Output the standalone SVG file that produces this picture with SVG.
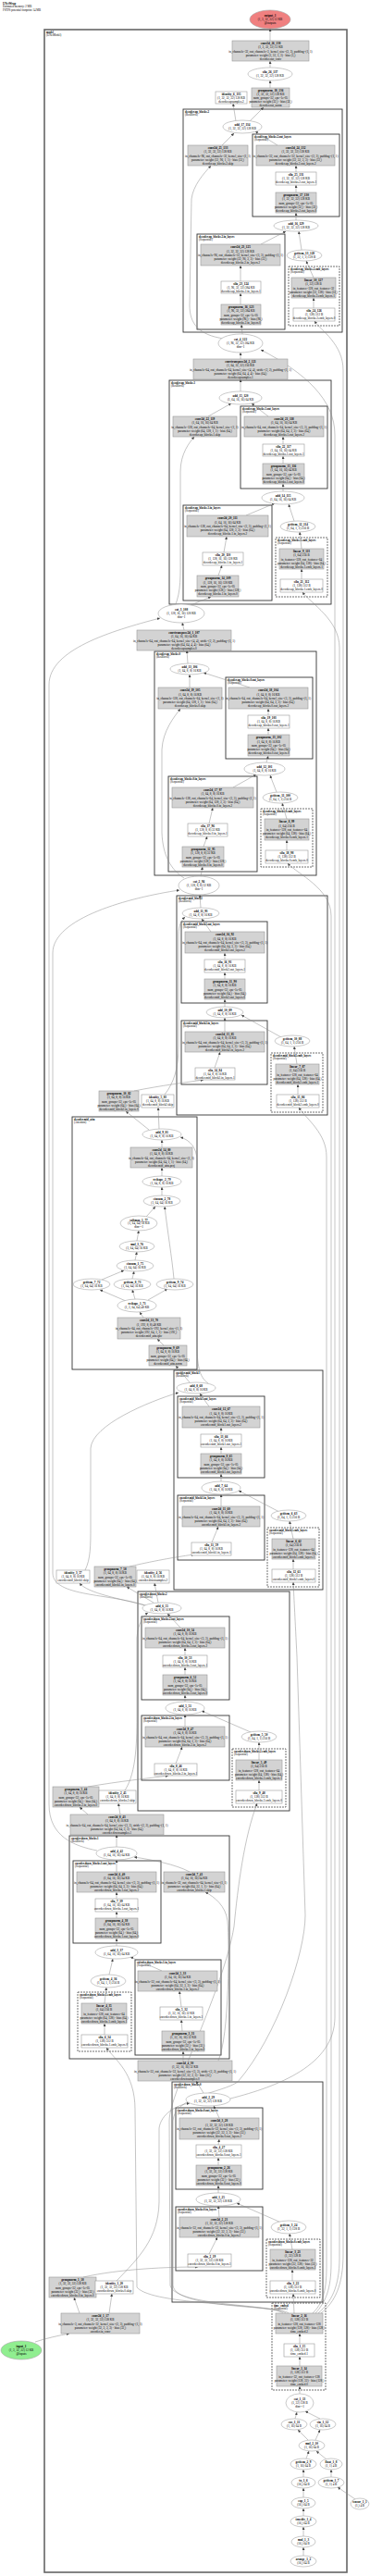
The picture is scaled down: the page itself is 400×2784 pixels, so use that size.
<svg xmlns="http://www.w3.org/2000/svg" width="400" height="2784" viewBox="0 0 400 2784">
<style>
.g{fill:#d3d3d3;stroke:#999;stroke-width:0.6}
.w{fill:#fff;stroke:#999;stroke-width:0.6}
.e{fill:#fff;stroke:#a6a6a6;stroke-width:0.6}
.c{fill:none;stroke:#333;stroke-width:0.9}
.d{fill:none;stroke:#333;stroke-width:0.7;stroke-dasharray:2,1}
.o{fill:none;stroke:#666;stroke-width:1.6}
.t{font-family:"Liberation Serif",serif;font-size:3.3px;text-anchor:middle;fill:#000}
.l{font-family:"Liberation Serif",serif;font-size:3px;text-anchor:start;fill:#000}
.b{font-weight:bold}
.ed path{fill:none;stroke:#8a8a8a;stroke-width:0.5;marker-end:url(#a)}
</style>
<defs><marker id="a" markerUnits="userSpaceOnUse" markerWidth="3" markerHeight="3" refX="3" refY="1.5" orient="auto"><path d="M0,0 L3,1.5 L0,3 z" fill="#444"/></marker></defs>
<rect width="400" height="2784" fill="#fff"/>
<g id="header"><text class="l" x="3" y="4.5"><tspan class="b">UNetWrap</tspan><tspan x="3" dy="3.6">Estimated memory: 2 MB</tspan><tspan x="3" dy="3.6">FSTPS potential footprint: 14 MB</tspan></text></g>
<g id="clusters">
<rect class="o" x="48" y="32" width="327" height="2748"/><text class="l" x="50" y="35.5"><tspan class="b">model</tspan><tspan x="50" dy="3.3">(UNetModel)</tspan></text>
<rect class="c" x="198" y="118" width="172" height="241"/><text class="l" x="200" y="121.5"><tspan class="b">decoder.up_blocks.2</tspan><tspan x="200" dy="3.3">(ResBlock)</tspan></text>
<rect class="c" x="273" y="145" width="94" height="89"/><text class="l" x="275" y="148.5"><tspan class="b">decoder.up_blocks.2.out_layers</tspan><tspan x="275" dy="3.3">(Sequential)</tspan></text>
<rect class="c" x="213" y="253" width="95" height="103"/><text class="l" x="215" y="256.5"><tspan class="b">decoder.up_blocks.2.in_layers</tspan><tspan x="215" dy="3.3">(Sequential)</tspan></text>
<rect class="d" x="312" y="288" width="55" height="64"/><text class="l" x="314" y="291.5"><tspan class="b">decoder.up_blocks.2.emb_layers</tspan><tspan x="314" dy="3.3">(Sequential)</tspan></text>
<rect class="c" x="183" y="411" width="175" height="242"/><text class="l" x="185" y="414.5"><tspan class="b">decoder.up_blocks.1</tspan><tspan x="185" dy="3.3">(ResBlock)</tspan></text>
<rect class="c" x="260" y="439" width="94" height="89"/><text class="l" x="262" y="442.5"><tspan class="b">decoder.up_blocks.1.out_layers</tspan><tspan x="262" dy="3.3">(Sequential)</tspan></text>
<rect class="c" x="198" y="546" width="96" height="103"/><text class="l" x="200" y="549.5"><tspan class="b">decoder.up_blocks.1.in_layers</tspan><tspan x="200" dy="3.3">(Sequential)</tspan></text>
<rect class="d" x="298" y="581" width="56" height="64"/><text class="l" x="300" y="584.5"><tspan class="b">decoder.up_blocks.1.emb_layers</tspan><tspan x="300" dy="3.3">(Sequential)</tspan></text>
<rect class="c" x="167" y="704" width="175" height="242"/><text class="l" x="169" y="707.5"><tspan class="b">decoder.up_blocks.0</tspan><tspan x="169" dy="3.3">(ResBlock)</tspan></text>
<rect class="c" x="244" y="732" width="94" height="88"/><text class="l" x="246" y="735.5"><tspan class="b">decoder.up_blocks.0.out_layers</tspan><tspan x="246" dy="3.3">(Sequential)</tspan></text>
<rect class="c" x="182" y="839" width="96" height="103"/><text class="l" x="184" y="842.5"><tspan class="b">decoder.up_blocks.0.in_layers</tspan><tspan x="184" dy="3.3">(Sequential)</tspan></text>
<rect class="d" x="282" y="874" width="56" height="63"/><text class="l" x="284" y="877.5"><tspan class="b">decoder.up_blocks.0.emb_layers</tspan><tspan x="284" dy="3.3">(Sequential)</tspan></text>
<rect class="c" x="191" y="968" width="163" height="237"/><text class="l" x="193" y="971.5"><tspan class="b">decoder.mid_block2</tspan><tspan x="193" dy="3.3">(ResBlock)</tspan></text>
<rect class="c" x="196" y="996" width="93" height="88"/><text class="l" x="198" y="999.5"><tspan class="b">decoder.mid_block2.out_layers</tspan><tspan x="198" dy="3.3">(Sequential)</tspan></text>
<rect class="c" x="196" y="1103" width="93" height="69"/><text class="l" x="198" y="1106.5"><tspan class="b">decoder.mid_block2.in_layers</tspan><tspan x="198" dy="3.3">(Sequential)</tspan></text>
<rect class="d" x="293" y="1138" width="56" height="64"/><text class="l" x="295" y="1141.5"><tspan class="b">decoder.mid_block2.emb_layers</tspan><tspan x="295" dy="3.3">(Sequential)</tspan></text>
<rect class="c" x="78" y="1207" width="135" height="273"/><text class="l" x="80" y="1210.5"><tspan class="b">decoder.mid_attn</tspan><tspan x="80" dy="3.3">(Attention)</tspan></text>
<rect class="c" x="188" y="1481" width="161" height="237"/><text class="l" x="190" y="1484.5"><tspan class="b">encoder.mid_block1</tspan><tspan x="190" dy="3.3">(ResBlock)</tspan></text>
<rect class="c" x="192" y="1509" width="94" height="88"/><text class="l" x="194" y="1512.5"><tspan class="b">encoder.mid_block1.out_layers</tspan><tspan x="194" dy="3.3">(Sequential)</tspan></text>
<rect class="c" x="192" y="1616" width="94" height="70"/><text class="l" x="194" y="1619.5"><tspan class="b">encoder.mid_block1.in_layers</tspan><tspan x="194" dy="3.3">(Sequential)</tspan></text>
<rect class="d" x="289" y="1651" width="56" height="64"/><text class="l" x="291" y="1654.5"><tspan class="b">encoder.mid_block1.emb_layers</tspan><tspan x="291" dy="3.3">(Sequential)</tspan></text>
<rect class="c" x="149" y="1720" width="164" height="237"/><text class="l" x="151" y="1723.5"><tspan class="b">encoder.down_blocks.2</tspan><tspan x="151" dy="3.3">(ResBlock)</tspan></text>
<rect class="c" x="153" y="1747" width="95" height="90"/><text class="l" x="155" y="1750.5"><tspan class="b">encoder.down_blocks.2.out_layers</tspan><tspan x="155" dy="3.3">(Sequential)</tspan></text>
<rect class="c" x="153" y="1854" width="95" height="70"/><text class="l" x="155" y="1857.5"><tspan class="b">encoder.down_blocks.2.in_layers</tspan><tspan x="155" dy="3.3">(Sequential)</tspan></text>
<rect class="d" x="251" y="1890" width="58" height="63"/><text class="l" x="253" y="1893.5"><tspan class="b">encoder.down_blocks.2.emb_layers</tspan><tspan x="253" dy="3.3">(Sequential)</tspan></text>
<rect class="c" x="75" y="1984" width="173" height="241"/><text class="l" x="77" y="1987.5"><tspan class="b">encoder.down_blocks.1</tspan><tspan x="77" dy="3.3">(ResBlock)</tspan></text>
<rect class="c" x="79" y="2011" width="95" height="89"/><text class="l" x="81" y="2014.5"><tspan class="b">encoder.down_blocks.1.out_layers</tspan><tspan x="81" dy="3.3">(Sequential)</tspan></text>
<rect class="d" x="84" y="2153" width="58" height="64"/><text class="l" x="86" y="2156.5"><tspan class="b">encoder.down_blocks.1.emb_layers</tspan><tspan x="86" dy="3.3">(Sequential)</tspan></text>
<rect class="c" x="146" y="2118" width="93" height="103"/><text class="l" x="148" y="2121.5"><tspan class="b">encoder.down_blocks.1.in_layers</tspan><tspan x="148" dy="3.3">(Sequential)</tspan></text>
<rect class="c" x="186" y="2250" width="163" height="238"/><text class="l" x="188" y="2253.5"><tspan class="b">encoder.down_blocks.0</tspan><tspan x="188" dy="3.3">(ResBlock)</tspan></text>
<rect class="c" x="190" y="2278" width="94" height="88"/><text class="l" x="192" y="2281.5"><tspan class="b">encoder.down_blocks.0.out_layers</tspan><tspan x="192" dy="3.3">(Sequential)</tspan></text>
<rect class="c" x="190" y="2385" width="94" height="69"/><text class="l" x="192" y="2388.5"><tspan class="b">encoder.down_blocks.0.in_layers</tspan><tspan x="192" dy="3.3">(Sequential)</tspan></text>
<rect class="d" x="288" y="2420" width="58" height="63"/><text class="l" x="290" y="2423.5"><tspan class="b">encoder.down_blocks.0.emb_layers</tspan><tspan x="290" dy="3.3">(Sequential)</tspan></text>
<rect class="d" x="294" y="2489" width="58" height="94"/><text class="l" x="296" y="2492.5"><tspan class="b">time_embed</tspan><tspan x="296" dy="3.3">(Sequential)</tspan></text>
</g>
<g id="edges" class="ed">
<path d="M328,2762 L328,2753"/><path d="M328,2741 L328,2731"/><path d="M328,2719 L328,2711"/><path d="M328,2699 L328,2689"/><path d="M328,2677 L328,2669"/>
<path d="M384,2701 L365,2688"/><path d="M358,2677 L358,2669"/><path d="M331,2657 L334,2649"/><path d="M353,2658 L342,2649"/>
<path d="M333,2637 L322,2626"/><path d="M341,2637 L346,2626"/><path d="M319,2614 L321,2607"/><path d="M346,2614 L330,2606"/>
<path d="M324,2587 L324,2579"/><path d="M324,2557 L324,2547"/><path d="M324,2533 L324,2522"/>
<path d="M318,2500 L317,2479"/>
<path d="M306,2500 C292,2489 165,2492 148,2472 L146,2280 C146,2240 124,2226 115,2213"/>
<path d="M309,2500 C296,2490 190,2493 184,2470 L183,2292 C183,2262 242,2150 253,2082 C257,2040 264,1985 278,1949"/>
<path d="M312,2500 C303,2491 190,2496 187,2470 L187,2292 C189,2265 240,2262 257,2250 C300,2200 330,2110 330,2070 L321,1790 C319,1750 318,1730 317,1710"/>
<path d="M338,2500 C348,2490 353,2478 353,2450 L353,1250 C353,1225 332,1210 323,1197"/>
<path d="M341,2500 C352,2488 358,2474 358,2446 L358,990 C358,960 322,945 311,933"/>
<path d="M344,2500 C358,2488 367,2472 367,2440 L367,700 C367,670 336,652 327,640"/>
<path d="M347,2500 C362,2488 371,2470 371,2436 L371,400 C371,372 347,357 340,347"/>
<path d="M249,2268 C300,2255 362,2232 362,2180 L362,470 C362,432 330,403 282,378"/>
<path d="M105,2000 C80,1995 53,1985 53,1950 L53,740 C53,702 120,682 173,668"/>
<path d="M156,1735 C120,1722 57,1726 57,1700 L57,1030 C57,992 140,970 194,962"/>
<path d="M220,2262 L212,2249"/>
<path d="M38,2531 C50,2527 64,2524 75,2522"/><path d="M86,2500 L80,2483"/><path d="M118,2500 L121,2479"/>
<path d="M90,2461 C130,2452 182,2450 214,2450"/>
<path d="M126,2465 C150,2440 171,2420 172,2380 L172,2300 C174,2285 190,2275 205,2273"/>
<path d="M226,2436 L235,2418"/><path d="M237,2396 L236,2384"/><path d="M304,2402 L256,2381"/><path d="M316,2431 L313,2414"/><path d="M316,2465 L316,2453"/>
<path d="M236,2370 L236,2362"/><path d="M236,2340 L236,2332"/><path d="M236,2318 L237,2312"/><path d="M237,2289 L231,2276"/>
<path d="M198,2227 L198,2217"/><path d="M236,2227 C248,2200 248,2100 246,2076 C244,2060 232,2050 222,2045"/>
<path d="M197,2195 L196,2183"/><path d="M196,2169 L194,2152"/><path d="M175,2130 L141,2115"/><path d="M118,2134 L122,2117"/><path d="M113,2165 L115,2148"/><path d="M113,2199 L113,2187"/>
<path d="M126,2103 L126,2095"/><path d="M126,2073 L126,2066"/><path d="M126,2052 L126,2045"/><path d="M126,2023 L126,2010"/><path d="M205,2023 C190,2015 165,2010 145,2007"/><path d="M126,1996 L126,1983"/>
<path d="M95,1961 L86,1953"/><path d="M130,1961 L128,1949"/>
<path d="M135,1935 C148,1915 148,1880 148,1850 L148,1770 C149,1755 155,1746 160,1743"/>
<path d="M95,1931 C130,1925 160,1922 182,1919"/>
<path d="M190,1906 L197,1888"/><path d="M200,1866 L200,1853"/><path d="M271,1872 L218,1849"/><path d="M280,1902 L280,1883"/><path d="M280,1935 L280,1924"/>
<path d="M200,1839 L200,1832"/><path d="M200,1810 L200,1802"/><path d="M200,1789 L200,1781"/><path d="M195,1759 L181,1744"/>
<path d="M166,1732 L137,1715"/><path d="M171,1732 L167,1711"/><path d="M158,1735 C130,1728 95,1722 86,1711"/>
<path d="M140,1693 C170,1686 195,1682 210,1680"/>
<path d="M92,1697 C98,1685 98,1670 98,1650 L98,1565 C100,1540 160,1515 193,1505"/>
<path d="M229,1667 L236,1650"/><path d="M239,1628 L239,1615"/><path d="M302,1634 L258,1611"/><path d="M317,1663 L313,1644"/><path d="M317,1696 L317,1685"/>
<path d="M239,1601 L239,1593"/><path d="M239,1571 L239,1564"/><path d="M239,1550 L239,1543"/><path d="M226,1520 L216,1506"/>
<path d="M205,1494 L190,1476"/><path d="M225,1495 C215,1488 213,1475 213,1450 L213,1255 C213,1240 205,1232 195,1229"/>
<path d="M177,1454 L170,1447"/><path d="M155,1424 L151,1418"/><path d="M136,1406 L108,1394"/><path d="M146,1404 L143,1394"/><path d="M160,1405 L181,1393"/>
<path d="M110,1383 L134,1373"/><path d="M143,1382 L145,1374"/><path d="M188,1382 C186,1360 181,1330 178,1304"/>
<path d="M146,1362 L148,1353"/><path d="M148,1341 L150,1330"/><path d="M158,1315 L168,1304"/><path d="M175,1292 L175,1283"/><path d="M175,1271 L175,1262"/><path d="M175,1240 L175,1232"/>
<path d="M161,1221 L136,1201"/><path d="M172,1220 L171,1197"/>
<path d="M145,1179 C175,1173 200,1170 220,1167"/>
<path d="M178,1183 C188,1170 193,1155 193,1130 L193,1010 C193,1000 196,995 200,991"/>
<path d="M232,1154 L238,1137"/><path d="M243,1115 L243,1100"/><path d="M304,1121 L261,1097"/><path d="M321,1150 L318,1131"/><path d="M322,1183 L322,1172"/>
<path d="M243,1088 L243,1080"/><path d="M243,1058 L243,1051"/><path d="M243,1037 L243,1030"/><path d="M228,1007 L218,993"/><path d="M217,981 L216,967"/>
<path d="M217,947 L219,937"/><path d="M199,949 C185,940 176,925 175,900 L175,810 C176,790 188,775 195,766"/>
<path d="M220,915 L224,904"/><path d="M226,890 L230,873"/><path d="M252,851 L277,837"/><path d="M299,856 L292,838"/><path d="M310,885 L305,868"/><path d="M310,919 L310,908"/>
<path d="M288,824 L290,817"/><path d="M290,794 L290,787"/><path d="M290,773 L290,766"/><path d="M270,743 L220,727"/><path d="M205,743 L205,729"/>
<path d="M203,717 L202,703"/><path d="M199,681 L197,673"/>
<path d="M206,654 L228,645"/><path d="M189,655 C196,640 195,620 195,600 L195,510 C195,490 205,478 210,472"/>
<path d="M236,622 L240,611"/><path d="M242,597 L245,580"/><path d="M266,557 L297,544"/><path d="M318,563 L312,545"/><path d="M326,593 L324,575"/><path d="M326,626 L326,615"/>
<path d="M306,531 L306,523"/><path d="M306,501 L306,493"/><path d="M306,480 L306,472"/><path d="M290,450 L272,436"/><path d="M225,450 L250,436"/>
<path d="M260,423 L260,410"/><path d="M260,388 L260,381"/>
<path d="M262,361 L261,351"/><path d="M242,366 C215,362 205,350 205,330 L207,215 C209,200 220,188 228,179"/>
<path d="M260,329 L260,317"/><path d="M260,304 L260,287"/><path d="M282,264 L309,250"/><path d="M326,270 L323,250"/><path d="M339,300 L331,282"/><path d="M339,333 L339,322"/>
<path d="M320,238 L320,230"/><path d="M320,208 L320,200"/><path d="M320,186 L320,179"/><path d="M300,157 L276,142"/><path d="M240,157 L253,144"/>
<path d="M255,131 L252,112"/><path d="M270,131 L285,116"/><path d="M292,95 L292,87"/><path d="M292,73 L292,66"/><path d="M292,44 L292,31"/>
</g>
<g id="nodes">
<g id="output_1"><ellipse cx="292" cy="21" rx="22" ry="10" fill="#f08080" stroke="#a6a6a6" stroke-width="0.6"/><text class="t" x="292" y="18"><tspan class="b">output_1</tspan><tspan x="292" dy="4.2">(1, 3, 32, 32) 12 KB</tspan><tspan x="292" dy="4.2">@outputs</tspan></text></g>
<g id="conv2d_26_138"><rect class="g" x="251" y="44" width="83" height="22"/><text class="t" x="292.5" y="48.1"><tspan class="b">conv2d_26_138</tspan><tspan x="292.5" dy="4.2">(1, 3, 32, 32) 12 KB</tspan><tspan x="292.5" dy="4.2">in_channels=32, out_channels=3, kernel_size=(3, 3), padding=(1, 1)</tspan><tspan x="292.5" dy="4.2">parameter: weight (3, 32, 3, 3) · bias (3,)</tspan><tspan x="292.5" dy="4.2">decoder.out_conv</tspan></text></g>
<g id="silu_26_137"><ellipse class="e" cx="292" cy="80" rx="24" ry="7"/><text class="t" x="292" y="79.1"><tspan class="b">silu_26_137</tspan><tspan x="292" dy="4.2">(1, 32, 32, 32) 128 KB</tspan></text></g>
<g id="groupnorm_18_136"><rect class="g" x="272" y="95" width="41" height="21"/><text class="t" x="292.5" y="99"><tspan class="b">groupnorm_18_136</tspan><tspan x="292.5" dy="4.1">(1, 32, 32, 32) 128 KB</tspan><tspan x="292.5" dy="4.1">num_groups=32, eps=1e-05</tspan><tspan x="292.5" dy="4.1">parameter: weight (32,) · bias (32,)</tspan><tspan x="292.5" dy="4.1">decoder.out_norm</tspan></text></g>
<g id="identity_6_135"><rect class="w" x="233" y="99" width="34" height="13"/><text class="t" x="250" y="102.7"><tspan class="b">identity_6_135</tspan><tspan x="250" dy="4">(1, 32, 32, 32) 128 KB</tspan><tspan x="250" dy="4">decoder.upsamples.2</tspan></text></g>
<g id="add_17_134"><ellipse class="e" cx="262" cy="137" rx="21" ry="7"/><text class="t" x="262" y="136.1"><tspan class="b">add_17_134</tspan><tspan x="262" dy="4.2">(1, 32, 32, 32) 128 KB</tspan></text></g>
<g id="conv2d_25_133"><rect class="g" x="203" y="157" width="65" height="22"/><text class="t" x="235.5" y="161.1"><tspan class="b">conv2d_25_133</tspan><tspan x="235.5" dy="4.2">(1, 32, 32, 32) 128 KB</tspan><tspan x="235.5" dy="4.2">in_channels=96, out_channels=32, kernel_size=(1, 1)</tspan><tspan x="235.5" dy="4.2">parameter: weight (32, 96, 1, 1) · bias (32,)</tspan><tspan x="235.5" dy="4.2">decoder.up_blocks.2.skip</tspan></text></g>
<g id="conv2d_24_132"><rect class="g" x="277" y="157" width="85" height="22"/><text class="t" x="319.5" y="161.1"><tspan class="b">conv2d_24_132</tspan><tspan x="319.5" dy="4.2">(1, 32, 32, 32) 128 KB</tspan><tspan x="319.5" dy="4.2">in_channels=32, out_channels=32, kernel_size=(3, 3), padding=(1, 1)</tspan><tspan x="319.5" dy="4.2">parameter: weight (32, 32, 3, 3) · bias (32,)</tspan><tspan x="319.5" dy="4.2">decoder.up_blocks.2.out_layers.2</tspan></text></g>
<g id="silu_25_131"><rect class="w" x="298" y="186" width="44" height="14"/><text class="t" x="320" y="189.9"><tspan class="b">silu_25_131</tspan><tspan x="320" dy="4.2">(1, 32, 32, 32) 128 KB</tspan><tspan x="320" dy="4.2">decoder.up_blocks.2.out_layers.1</tspan></text></g>
<g id="groupnorm_17_130"><rect class="g" x="298" y="208" width="44" height="22"/><text class="t" x="320" y="212.1"><tspan class="b">groupnorm_17_130</tspan><tspan x="320" dy="4.2">(1, 32, 32, 32) 128 KB</tspan><tspan x="320" dy="4.2">num_groups=32, eps=1e-05</tspan><tspan x="320" dy="4.2">parameter: weight (32,) · bias (32,)</tspan><tspan x="320" dy="4.2">decoder.up_blocks.2.out_layers.0</tspan></text></g>
<g id="add_16_129"><ellipse class="e" cx="320" cy="244" rx="24" ry="6"/><text class="t" x="320" y="243.1"><tspan class="b">add_16_129</tspan><tspan x="320" dy="4.2">(1, 32, 32, 32) 128 KB</tspan></text></g>
<g id="conv2d_23_125"><rect class="g" x="217" y="264" width="86" height="23"/><text class="t" x="260" y="268.3"><tspan class="b">conv2d_23_125</tspan><tspan x="260" dy="4.2">(1, 32, 32, 32) 128 KB</tspan><tspan x="260" dy="4.2">in_channels=96, out_channels=32, kernel_size=(3, 3), padding=(1, 1)</tspan><tspan x="260" dy="4.2">parameter: weight (32, 96, 3, 3) · bias (32,)</tspan><tspan x="260" dy="4.2">decoder.up_blocks.2.in_layers.2</tspan></text></g>
<g id="silu_23_124"><rect class="w" x="239" y="304" width="43" height="13"/><text class="t" x="260.5" y="307.7"><tspan class="b">silu_23_124</tspan><tspan x="260.5" dy="4">(1, 96, 32, 32) 384 KB</tspan><tspan x="260.5" dy="4">decoder.up_blocks.2.in_layers.1</tspan></text></g>
<g id="groupnorm_16_123"><rect class="g" x="239" y="329" width="43" height="22"/><text class="t" x="260.5" y="333.1"><tspan class="b">groupnorm_16_123</tspan><tspan x="260.5" dy="4.2">(1, 96, 32, 32) 384 KB</tspan><tspan x="260.5" dy="4.2">num_groups=32, eps=1e-05</tspan><tspan x="260.5" dy="4.2">parameter: weight (96,) · bias (96,)</tspan><tspan x="260.5" dy="4.2">decoder.up_blocks.2.in_layers.0</tspan></text></g>
<g id="getitem_13_128"><ellipse class="e" cx="329" cy="276" rx="19" ry="6"/><text class="t" x="329" y="275.1"><tspan class="b">getitem_13_128</tspan><tspan x="329" dy="4.2">(1, 32, 1, 1) 128 B</tspan></text></g>
<g id="linear_10_127"><rect class="g" x="315" y="300" width="48" height="22"/><text class="t" x="339" y="304.1"><tspan class="b">linear_10_127</tspan><tspan x="339" dy="4.2">(1, 32) 128 B</tspan><tspan x="339" dy="4.2">in_features=128, out_features=32</tspan><tspan x="339" dy="4.2">parameter: weight (32, 128) · bias (32,)</tspan><tspan x="339" dy="4.2">decoder.up_blocks.2.emb_layers.1</tspan></text></g>
<g id="silu_24_126"><rect class="w" x="317" y="333" width="45" height="14"/><text class="t" x="339.5" y="336.9"><tspan class="b">silu_24_126</tspan><tspan x="339.5" dy="4.2">(1, 128) 512 B</tspan><tspan x="339.5" dy="4.2">decoder.up_blocks.2.emb_layers.0</tspan></text></g>
<g id="cat_4_122"><ellipse class="e" cx="260" cy="371" rx="24" ry="10"/><text class="t" x="260" y="368"><tspan class="b">cat_4_122</tspan><tspan x="260" dy="4.2">(1, 96, 32, 32) 384 KB</tspan><tspan x="260" dy="4.2">dim=1</tspan></text></g>
<g id="convtranspose2d_2_121"><rect class="g" x="209" y="388" width="102" height="22"/><text class="t" x="260" y="392.1"><tspan class="b">convtranspose2d_2_121</tspan><tspan x="260" dy="4.2">(1, 64, 32, 32) 256 KB</tspan><tspan x="260" dy="4.2">in_channels=64, out_channels=64, kernel_size=(4, 4), stride=(2, 2), padding=(1, 1)</tspan><tspan x="260" dy="4.2">parameter: weight (64, 64, 4, 4) · bias (64,)</tspan><tspan x="260" dy="4.2">decoder.upsamples.1</tspan></text></g>
<g id="add_15_120"><ellipse class="e" cx="260" cy="430" rx="23" ry="7"/><text class="t" x="260" y="429.1"><tspan class="b">add_15_120</tspan><tspan x="260" dy="4.2">(1, 64, 16, 16) 64 KB</tspan></text></g>
<g id="conv2d_22_119"><rect class="g" x="187" y="450" width="69" height="22"/><text class="t" x="221.5" y="454.1"><tspan class="b">conv2d_22_119</tspan><tspan x="221.5" dy="4.2">(1, 64, 16, 16) 64 KB</tspan><tspan x="221.5" dy="4.2">in_channels=128, out_channels=64, kernel_size=(1, 1)</tspan><tspan x="221.5" dy="4.2">parameter: weight (64, 128, 1, 1) · bias (64,)</tspan><tspan x="221.5" dy="4.2">decoder.up_blocks.1.skip</tspan></text></g>
<g id="conv2d_21_118"><rect class="g" x="264" y="450" width="86" height="22"/><text class="t" x="307" y="454.1"><tspan class="b">conv2d_21_118</tspan><tspan x="307" dy="4.2">(1, 64, 16, 16) 64 KB</tspan><tspan x="307" dy="4.2">in_channels=64, out_channels=64, kernel_size=(3, 3), padding=(1, 1)</tspan><tspan x="307" dy="4.2">parameter: weight (64, 64, 3, 3) · bias (64,)</tspan><tspan x="307" dy="4.2">decoder.up_blocks.1.out_layers.2</tspan></text></g>
<g id="silu_22_117"><rect class="w" x="284" y="480" width="45" height="13"/><text class="t" x="306.5" y="483.7"><tspan class="b">silu_22_117</tspan><tspan x="306.5" dy="4">(1, 64, 16, 16) 64 KB</tspan><tspan x="306.5" dy="4">decoder.up_blocks.1.out_layers.1</tspan></text></g>
<g id="groupnorm_15_116"><rect class="g" x="284" y="501" width="45" height="22"/><text class="t" x="306.5" y="505.1"><tspan class="b">groupnorm_15_116</tspan><tspan x="306.5" dy="4.2">(1, 64, 16, 16) 64 KB</tspan><tspan x="306.5" dy="4.2">num_groups=32, eps=1e-05</tspan><tspan x="306.5" dy="4.2">parameter: weight (64,) · bias (64,)</tspan><tspan x="306.5" dy="4.2">decoder.up_blocks.1.out_layers.0</tspan></text></g>
<g id="add_14_115"><ellipse class="e" cx="306" cy="538" rx="23" ry="7"/><text class="t" x="306" y="537.1"><tspan class="b">add_14_115</tspan><tspan x="306" dy="4.2">(1, 64, 16, 16) 64 KB</tspan></text></g>
<g id="conv2d_20_111"><rect class="g" x="202" y="557" width="88" height="23"/><text class="t" x="246" y="561.3"><tspan class="b">conv2d_20_111</tspan><tspan x="246" dy="4.2">(1, 64, 16, 16) 64 KB</tspan><tspan x="246" dy="4.2">in_channels=128, out_channels=64, kernel_size=(3, 3), padding=(1, 1)</tspan><tspan x="246" dy="4.2">parameter: weight (64, 128, 3, 3) · bias (64,)</tspan><tspan x="246" dy="4.2">decoder.up_blocks.1.in_layers.2</tspan></text></g>
<g id="silu_20_110"><rect class="w" x="219" y="597" width="44" height="14"/><text class="t" x="241" y="600.9"><tspan class="b">silu_20_110</tspan><tspan x="241" dy="4.2">(1, 128, 16, 16) 128 KB</tspan><tspan x="241" dy="4.2">decoder.up_blocks.1.in_layers.1</tspan></text></g>
<g id="groupnorm_14_109"><rect class="g" x="213" y="622" width="45" height="23"/><text class="t" x="235.5" y="626.3"><tspan class="b">groupnorm_14_109</tspan><tspan x="235.5" dy="4.2">(1, 128, 16, 16) 128 KB</tspan><tspan x="235.5" dy="4.2">num_groups=32, eps=1e-05</tspan><tspan x="235.5" dy="4.2">parameter: weight (128,) · bias (128,)</tspan><tspan x="235.5" dy="4.2">decoder.up_blocks.1.in_layers.0</tspan></text></g>
<g id="getitem_12_114"><ellipse class="e" cx="322" cy="569" rx="19" ry="6"/><text class="t" x="322" y="568.1"><tspan class="b">getitem_12_114</tspan><tspan x="322" dy="4.2">(1, 64, 1, 1) 256 B</tspan></text></g>
<g id="linear_9_113"><rect class="g" x="302" y="593" width="48" height="22"/><text class="t" x="326" y="597.1"><tspan class="b">linear_9_113</tspan><tspan x="326" dy="4.2">(1, 64) 256 B</tspan><tspan x="326" dy="4.2">in_features=128, out_features=64</tspan><tspan x="326" dy="4.2">parameter: weight (64, 128) · bias (64,)</tspan><tspan x="326" dy="4.2">decoder.up_blocks.1.emb_layers.1</tspan></text></g>
<g id="silu_21_112"><rect class="w" x="303" y="626" width="46" height="14"/><text class="t" x="326" y="629.9"><tspan class="b">silu_21_112</tspan><tspan x="326" dy="4.2">(1, 128) 512 B</tspan><tspan x="326" dy="4.2">decoder.up_blocks.1.emb_layers.0</tspan></text></g>
<g id="cat_3_108"><ellipse class="e" cx="196" cy="663" rx="25" ry="10"/><text class="t" x="196" y="660"><tspan class="b">cat_3_108</tspan><tspan x="196" dy="4.2">(1, 128, 16, 16) 128 KB</tspan><tspan x="196" dy="4.2">dim=1</tspan></text></g>
<g id="convtranspose2d_1_107"><rect class="g" x="148" y="681" width="102" height="22"/><text class="t" x="199" y="685.1"><tspan class="b">convtranspose2d_1_107</tspan><tspan x="199" dy="4.2">(1, 64, 16, 16) 64 KB</tspan><tspan x="199" dy="4.2">in_channels=64, out_channels=64, kernel_size=(4, 4), stride=(2, 2), padding=(1, 1)</tspan><tspan x="199" dy="4.2">parameter: weight (64, 64, 4, 4) · bias (64,)</tspan><tspan x="199" dy="4.2">decoder.upsamples.0</tspan></text></g>
<g id="add_13_106"><ellipse class="e" cx="205" cy="723" rx="21" ry="6"/><text class="t" x="205" y="722.1"><tspan class="b">add_13_106</tspan><tspan x="205" dy="4.2">(1, 64, 8, 8) 16 KB</tspan></text></g>
<g id="conv2d_19_105"><rect class="g" x="171" y="743" width="69" height="23"/><text class="t" x="205.5" y="747.3"><tspan class="b">conv2d_19_105</tspan><tspan x="205.5" dy="4.2">(1, 64, 8, 8) 16 KB</tspan><tspan x="205.5" dy="4.2">in_channels=128, out_channels=64, kernel_size=(1, 1)</tspan><tspan x="205.5" dy="4.2">parameter: weight (64, 128, 1, 1) · bias (64,)</tspan><tspan x="205.5" dy="4.2">decoder.up_blocks.0.skip</tspan></text></g>
<g id="conv2d_18_104"><rect class="g" x="247" y="743" width="86" height="23"/><text class="t" x="290" y="747.3"><tspan class="b">conv2d_18_104</tspan><tspan x="290" dy="4.2">(1, 64, 8, 8) 16 KB</tspan><tspan x="290" dy="4.2">in_channels=64, out_channels=64, kernel_size=(3, 3), padding=(1, 1)</tspan><tspan x="290" dy="4.2">parameter: weight (64, 64, 3, 3) · bias (64,)</tspan><tspan x="290" dy="4.2">decoder.up_blocks.0.out_layers.2</tspan></text></g>
<g id="silu_19_103"><rect class="w" x="268" y="773" width="45" height="14"/><text class="t" x="290.5" y="776.9"><tspan class="b">silu_19_103</tspan><tspan x="290.5" dy="4.2">(1, 64, 8, 8) 16 KB</tspan><tspan x="290.5" dy="4.2">decoder.up_blocks.0.out_layers.1</tspan></text></g>
<g id="groupnorm_13_102"><rect class="g" x="268" y="794" width="45" height="23"/><text class="t" x="290.5" y="798.3"><tspan class="b">groupnorm_13_102</tspan><tspan x="290.5" dy="4.2">(1, 64, 8, 8) 16 KB</tspan><tspan x="290.5" dy="4.2">num_groups=32, eps=1e-05</tspan><tspan x="290.5" dy="4.2">parameter: weight (64,) · bias (64,)</tspan><tspan x="290.5" dy="4.2">decoder.up_blocks.0.out_layers.0</tspan></text></g>
<g id="add_12_101"><ellipse class="e" cx="286" cy="831" rx="22" ry="7"/><text class="t" x="286" y="830.1"><tspan class="b">add_12_101</tspan><tspan x="286" dy="4.2">(1, 64, 8, 8) 16 KB</tspan></text></g>
<g id="conv2d_17_97"><rect class="g" x="186" y="851" width="88" height="22"/><text class="t" x="230" y="855.1"><tspan class="b">conv2d_17_97</tspan><tspan x="230" dy="4.2">(1, 64, 8, 8) 16 KB</tspan><tspan x="230" dy="4.2">in_channels=128, out_channels=64, kernel_size=(3, 3), padding=(1, 1)</tspan><tspan x="230" dy="4.2">parameter: weight (64, 128, 3, 3) · bias (64,)</tspan><tspan x="230" dy="4.2">decoder.up_blocks.0.in_layers.2</tspan></text></g>
<g id="silu_17_96"><rect class="w" x="203" y="890" width="43" height="14"/><text class="t" x="224.5" y="893.9"><tspan class="b">silu_17_96</tspan><tspan x="224.5" dy="4.2">(1, 128, 8, 8) 32 KB</tspan><tspan x="224.5" dy="4.2">decoder.up_blocks.0.in_layers.1</tspan></text></g>
<g id="groupnorm_12_95"><rect class="g" x="197" y="915" width="45" height="22"/><text class="t" x="219.5" y="919.1"><tspan class="b">groupnorm_12_95</tspan><tspan x="219.5" dy="4.2">(1, 128, 8, 8) 32 KB</tspan><tspan x="219.5" dy="4.2">num_groups=32, eps=1e-05</tspan><tspan x="219.5" dy="4.2">parameter: weight (128,) · bias (128,)</tspan><tspan x="219.5" dy="4.2">decoder.up_blocks.0.in_layers.0</tspan></text></g>
<g id="getitem_11_100"><ellipse class="e" cx="303" cy="862" rx="19" ry="6"/><text class="t" x="303" y="861.1"><tspan class="b">getitem_11_100</tspan><tspan x="303" dy="4.2">(1, 64, 1, 1) 256 B</tspan></text></g>
<g id="linear_8_99"><rect class="g" x="286" y="885" width="48" height="23"/><text class="t" x="310" y="889.3"><tspan class="b">linear_8_99</tspan><tspan x="310" dy="4.2">(1, 64) 256 B</tspan><tspan x="310" dy="4.2">in_features=128, out_features=64</tspan><tspan x="310" dy="4.2">parameter: weight (64, 128) · bias (64,)</tspan><tspan x="310" dy="4.2">decoder.up_blocks.0.emb_layers.1</tspan></text></g>
<g id="silu_18_98"><rect class="w" x="287" y="919" width="46" height="14"/><text class="t" x="310" y="922.9"><tspan class="b">silu_18_98</tspan><tspan x="310" dy="4.2">(1, 128) 512 B</tspan><tspan x="310" dy="4.2">decoder.up_blocks.0.emb_layers.0</tspan></text></g>
<g id="cat_2_94"><ellipse class="e" cx="215" cy="957" rx="22" ry="10"/><text class="t" x="215" y="954"><tspan class="b">cat_2_94</tspan><tspan x="215" dy="4.2">(1, 128, 8, 8) 32 KB</tspan><tspan x="215" dy="4.2">dim=1</tspan></text></g>
<g id="add_11_93"><ellipse class="e" cx="217" cy="987" rx="20" ry="6"/><text class="t" x="217" y="986.1"><tspan class="b">add_11_93</tspan><tspan x="217" dy="4.2">(1, 64, 8, 8) 16 KB</tspan></text></g>
<g id="conv2d_16_92"><rect class="g" x="200" y="1007" width="86" height="23"/><text class="t" x="243" y="1011.3"><tspan class="b">conv2d_16_92</tspan><tspan x="243" dy="4.2">(1, 64, 8, 8) 16 KB</tspan><tspan x="243" dy="4.2">in_channels=64, out_channels=64, kernel_size=(3, 3), padding=(1, 1)</tspan><tspan x="243" dy="4.2">parameter: weight (64, 64, 3, 3) · bias (64,)</tspan><tspan x="243" dy="4.2">decoder.mid_block2.out_layers.2</tspan></text></g>
<g id="silu_16_91"><rect class="w" x="221" y="1037" width="44" height="14"/><text class="t" x="243" y="1040.9"><tspan class="b">silu_16_91</tspan><tspan x="243" dy="4.2">(1, 64, 8, 8) 16 KB</tspan><tspan x="243" dy="4.2">decoder.mid_block2.out_layers.1</tspan></text></g>
<g id="groupnorm_11_90"><rect class="g" x="221" y="1058" width="44" height="22"/><text class="t" x="243" y="1062.1"><tspan class="b">groupnorm_11_90</tspan><tspan x="243" dy="4.2">(1, 64, 8, 8) 16 KB</tspan><tspan x="243" dy="4.2">num_groups=32, eps=1e-05</tspan><tspan x="243" dy="4.2">parameter: weight (64,) · bias (64,)</tspan><tspan x="243" dy="4.2">decoder.mid_block2.out_layers.0</tspan></text></g>
<g id="add_10_89"><ellipse class="e" cx="243" cy="1094" rx="20" ry="6"/><text class="t" x="243" y="1093.1"><tspan class="b">add_10_89</tspan><tspan x="243" dy="4.2">(1, 64, 8, 8) 16 KB</tspan></text></g>
<g id="conv2d_15_85"><rect class="g" x="200" y="1115" width="86" height="22"/><text class="t" x="243" y="1119.1"><tspan class="b">conv2d_15_85</tspan><tspan x="243" dy="4.2">(1, 64, 8, 8) 16 KB</tspan><tspan x="243" dy="4.2">in_channels=64, out_channels=64, kernel_size=(3, 3), padding=(1, 1)</tspan><tspan x="243" dy="4.2">parameter: weight (64, 64, 3, 3) · bias (64,)</tspan><tspan x="243" dy="4.2">decoder.mid_block2.in_layers.2</tspan></text></g>
<g id="silu_14_84"><rect class="w" x="211" y="1154" width="43" height="13"/><text class="t" x="232.5" y="1157.7"><tspan class="b">silu_14_84</tspan><tspan x="232.5" dy="4">(1, 64, 8, 8) 16 KB</tspan><tspan x="232.5" dy="4">decoder.mid_block2.in_layers.1</tspan></text></g>
<g id="getitem_10_88"><ellipse class="e" cx="316" cy="1125" rx="19" ry="6"/><text class="t" x="316" y="1124.1"><tspan class="b">getitem_10_88</tspan><tspan x="316" dy="4.2">(1, 64, 1, 1) 256 B</tspan></text></g>
<g id="linear_7_87"><rect class="g" x="298" y="1150" width="47" height="22"/><text class="t" x="321.5" y="1154.1"><tspan class="b">linear_7_87</tspan><tspan x="321.5" dy="4.2">(1, 64) 256 B</tspan><tspan x="321.5" dy="4.2">in_features=128, out_features=64</tspan><tspan x="321.5" dy="4.2">parameter: weight (64, 128) · bias (64,)</tspan><tspan x="321.5" dy="4.2">decoder.mid_block2.emb_layers.1</tspan></text></g>
<g id="silu_15_86"><rect class="w" x="299" y="1183" width="46" height="14"/><text class="t" x="322" y="1186.9"><tspan class="b">silu_15_86</tspan><tspan x="322" dy="4.2">(1, 128) 512 B</tspan><tspan x="322" dy="4.2">decoder.mid_block2.emb_layers.0</tspan></text></g>
<g id="groupnorm_10_82"><rect class="g" x="107" y="1179" width="43" height="22"/><text class="t" x="128.5" y="1183.1"><tspan class="b">groupnorm_10_82</tspan><tspan x="128.5" dy="4.2">(1, 64, 8, 8) 16 KB</tspan><tspan x="128.5" dy="4.2">num_groups=32, eps=1e-05</tspan><tspan x="128.5" dy="4.2">parameter: weight (64,) · bias (64,)</tspan><tspan x="128.5" dy="4.2">decoder.mid_block2.in_layers.0</tspan></text></g>
<g id="identity_5_83"><rect class="w" x="153" y="1183" width="35" height="14"/><text class="t" x="170.5" y="1186.9"><tspan class="b">identity_5_83</tspan><tspan x="170.5" dy="4.2">(1, 64, 8, 8) 16 KB</tspan><tspan x="170.5" dy="4.2">decoder.mid_block2.skip</tspan></text></g>
<g id="add_9_81"><ellipse class="e" cx="175" cy="1226" rx="21" ry="6"/><text class="t" x="175" y="1225.1"><tspan class="b">add_9_81</tspan><tspan x="175" dy="4.2">(1, 64, 8, 8) 16 KB</tspan></text></g>
<g id="conv2d_14_80"><rect class="g" x="141" y="1240" width="67" height="22"/><text class="t" x="174.5" y="1244.1"><tspan class="b">conv2d_14_80</tspan><tspan x="174.5" dy="4.2">(1, 64, 8, 8) 16 KB</tspan><tspan x="174.5" dy="4.2">in_channels=64, out_channels=64, kernel_size=(1, 1)</tspan><tspan x="174.5" dy="4.2">parameter: weight (64, 64, 1, 1) · bias (64,)</tspan><tspan x="174.5" dy="4.2">decoder.mid_attn.proj</tspan></text></g>
<g id="reshape_2_79"><ellipse class="e" cx="175" cy="1277" rx="21" ry="6"/><text class="t" x="175" y="1276.1"><tspan class="b">reshape_2_79</tspan><tspan x="175" dy="4.2">(1, 64, 8, 8) 16 KB</tspan></text></g>
<g id="einsum_2_78"><ellipse class="e" cx="175" cy="1298" rx="20" ry="6"/><text class="t" x="175" y="1297.1"><tspan class="b">einsum_2_78</tspan><tspan x="175" dy="4.2">(1, 64, 64) 16 KB</tspan></text></g>
<g id="softmax_1_77"><ellipse class="e" cx="150" cy="1322" rx="20" ry="8"/><text class="t" x="150" y="1319.5"><tspan class="b">softmax_1_77</tspan><tspan x="150" dy="3.9">(1, 64, 64) 16 KB</tspan><tspan x="150" dy="3.9">dim=-1</tspan></text></g>
<g id="mul_3_76"><ellipse class="e" cx="148" cy="1347" rx="19" ry="6"/><text class="t" x="148" y="1346.1"><tspan class="b">mul_3_76</tspan><tspan x="148" dy="4.2">(1, 64, 64) 16 KB</tspan></text></g>
<g id="einsum_1_75"><ellipse class="e" cx="146" cy="1368" rx="20" ry="6"/><text class="t" x="146" y="1367.1"><tspan class="b">einsum_1_75</tspan><tspan x="146" dy="4.2">(1, 64, 64) 16 KB</tspan></text></g>
<g id="getitem_7_72"><ellipse class="e" cx="99" cy="1388" rx="20" ry="6"/><text class="t" x="99" y="1387.1"><tspan class="b">getitem_7_72</tspan><tspan x="99" dy="4.2">(1, 64, 64) 16 KB</tspan></text></g>
<g id="getitem_8_73"><ellipse class="e" cx="143" cy="1388" rx="20" ry="6"/><text class="t" x="143" y="1387.1"><tspan class="b">getitem_8_73</tspan><tspan x="143" dy="4.2">(1, 64, 64) 16 KB</tspan></text></g>
<g id="getitem_9_74"><ellipse class="e" cx="189" cy="1388" rx="20" ry="6"/><text class="t" x="189" y="1387.1"><tspan class="b">getitem_9_74</tspan><tspan x="189" dy="4.2">(1, 64, 64) 16 KB</tspan></text></g>
<g id="reshape_1_71"><ellipse class="e" cx="148" cy="1411" rx="21" ry="7"/><text class="t" x="148" y="1410.1"><tspan class="b">reshape_1_71</tspan><tspan x="148" dy="4.2">(1, 3, 64, 64) 48 KB</tspan></text></g>
<g id="conv2d_13_70"><rect class="g" x="127" y="1424" width="68" height="23"/><text class="t" x="161" y="1428.3"><tspan class="b">conv2d_13_70</tspan><tspan x="161" dy="4.2">(1, 192, 8, 8) 48 KB</tspan><tspan x="161" dy="4.2">in_channels=64, out_channels=192, kernel_size=(1, 1)</tspan><tspan x="161" dy="4.2">parameter: weight (192, 64, 1, 1) · bias (192,)</tspan><tspan x="161" dy="4.2">decoder.mid_attn.qkv</tspan></text></g>
<g id="groupnorm_9_69"><rect class="g" x="161" y="1454" width="41" height="22"/><text class="t" x="181.5" y="1458.1"><tspan class="b">groupnorm_9_69</tspan><tspan x="181.5" dy="4.2">(1, 64, 8, 8) 16 KB</tspan><tspan x="181.5" dy="4.2">num_groups=32, eps=1e-05</tspan><tspan x="181.5" dy="4.2">parameter: weight (64,) · bias (64,)</tspan><tspan x="181.5" dy="4.2">decoder.mid_attn.norm</tspan></text></g>
<g id="add_8_68"><ellipse class="e" cx="212" cy="1500" rx="21" ry="6"/><text class="t" x="212" y="1499.1"><tspan class="b">add_8_68</tspan><tspan x="212" dy="4.2">(1, 64, 8, 8) 16 KB</tspan></text></g>
<g id="conv2d_12_67"><rect class="g" x="197" y="1520" width="84" height="23"/><text class="t" x="239" y="1524.3"><tspan class="b">conv2d_12_67</tspan><tspan x="239" dy="4.2">(1, 64, 8, 8) 16 KB</tspan><tspan x="239" dy="4.2">in_channels=64, out_channels=64, kernel_size=(3, 3), padding=(1, 1)</tspan><tspan x="239" dy="4.2">parameter: weight (64, 64, 3, 3) · bias (64,)</tspan><tspan x="239" dy="4.2">encoder.mid_block1.out_layers.2</tspan></text></g>
<g id="silu_13_66"><rect class="w" x="217" y="1550" width="44" height="14"/><text class="t" x="239" y="1553.9"><tspan class="b">silu_13_66</tspan><tspan x="239" dy="4.2">(1, 64, 8, 8) 16 KB</tspan><tspan x="239" dy="4.2">encoder.mid_block1.out_layers.1</tspan></text></g>
<g id="groupnorm_8_65"><rect class="g" x="217" y="1571" width="44" height="22"/><text class="t" x="239" y="1575.1"><tspan class="b">groupnorm_8_65</tspan><tspan x="239" dy="4.2">(1, 64, 8, 8) 16 KB</tspan><tspan x="239" dy="4.2">num_groups=32, eps=1e-05</tspan><tspan x="239" dy="4.2">parameter: weight (64,) · bias (64,)</tspan><tspan x="239" dy="4.2">encoder.mid_block1.out_layers.0</tspan></text></g>
<g id="add_7_64"><ellipse class="e" cx="239" cy="1608" rx="21" ry="7"/><text class="t" x="239" y="1607.1"><tspan class="b">add_7_64</tspan><tspan x="239" dy="4.2">(1, 64, 8, 8) 16 KB</tspan></text></g>
<g id="conv2d_11_60"><rect class="g" x="197" y="1628" width="84" height="22"/><text class="t" x="239" y="1632.1"><tspan class="b">conv2d_11_60</tspan><tspan x="239" dy="4.2">(1, 64, 8, 8) 16 KB</tspan><tspan x="239" dy="4.2">in_channels=64, out_channels=64, kernel_size=(3, 3), padding=(1, 1)</tspan><tspan x="239" dy="4.2">parameter: weight (64, 64, 3, 3) · bias (64,)</tspan><tspan x="239" dy="4.2">encoder.mid_block1.in_layers.2</tspan></text></g>
<g id="silu_11_59"><rect class="w" x="207" y="1667" width="43" height="14"/><text class="t" x="228.5" y="1670.9"><tspan class="b">silu_11_59</tspan><tspan x="228.5" dy="4.2">(1, 64, 8, 8) 16 KB</tspan><tspan x="228.5" dy="4.2">encoder.mid_block1.in_layers.1</tspan></text></g>
<g id="getitem_6_63"><ellipse class="e" cx="312" cy="1638" rx="19" ry="6"/><text class="t" x="312" y="1637.1"><tspan class="b">getitem_6_63</tspan><tspan x="312" dy="4.2">(1, 64, 1, 1) 256 B</tspan></text></g>
<g id="linear_6_62"><rect class="g" x="294" y="1663" width="47" height="22"/><text class="t" x="317.5" y="1667.1"><tspan class="b">linear_6_62</tspan><tspan x="317.5" dy="4.2">(1, 64) 256 B</tspan><tspan x="317.5" dy="4.2">in_features=128, out_features=64</tspan><tspan x="317.5" dy="4.2">parameter: weight (64, 128) · bias (64,)</tspan><tspan x="317.5" dy="4.2">encoder.mid_block1.emb_layers.1</tspan></text></g>
<g id="silu_12_61"><rect class="w" x="294" y="1696" width="47" height="14"/><text class="t" x="317.5" y="1699.9"><tspan class="b">silu_12_61</tspan><tspan x="317.5" dy="4.2">(1, 128) 512 B</tspan><tspan x="317.5" dy="4.2">encoder.mid_block1.emb_layers.0</tspan></text></g>
<g id="identity_3_57"><rect class="w" x="61" y="1697" width="36" height="14"/><text class="t" x="79" y="1700.9"><tspan class="b">identity_3_57</tspan><tspan x="79" dy="4.2">(1, 64, 8, 8) 16 KB</tspan><tspan x="79" dy="4.2">encoder.mid_block1.skip</tspan></text></g>
<g id="groupnorm_7_58"><rect class="g" x="102" y="1693" width="45" height="22"/><text class="t" x="124.5" y="1697.1"><tspan class="b">groupnorm_7_58</tspan><tspan x="124.5" dy="4.2">(1, 64, 8, 8) 16 KB</tspan><tspan x="124.5" dy="4.2">num_groups=32, eps=1e-05</tspan><tspan x="124.5" dy="4.2">parameter: weight (64,) · bias (64,)</tspan><tspan x="124.5" dy="4.2">encoder.mid_block1.in_layers.0</tspan></text></g>
<g id="identity_4_56"><rect class="w" x="148" y="1697" width="35" height="14"/><text class="t" x="165.5" y="1700.9"><tspan class="b">identity_4_56</tspan><tspan x="165.5" dy="4.2">(1, 64, 8, 8) 16 KB</tspan><tspan x="165.5" dy="4.2">encoder.downsamples.2</tspan></text></g>
<g id="add_6_55"><ellipse class="e" cx="175" cy="1738" rx="21" ry="6"/><text class="t" x="175" y="1737.1"><tspan class="b">add_6_55</tspan><tspan x="175" dy="4.2">(1, 64, 8, 8) 16 KB</tspan></text></g>
<g id="conv2d_10_54"><rect class="g" x="157" y="1759" width="86" height="22"/><text class="t" x="200" y="1763.1"><tspan class="b">conv2d_10_54</tspan><tspan x="200" dy="4.2">(1, 64, 8, 8) 16 KB</tspan><tspan x="200" dy="4.2">in_channels=64, out_channels=64, kernel_size=(3, 3), padding=(1, 1)</tspan><tspan x="200" dy="4.2">parameter: weight (64, 64, 3, 3) · bias (64,)</tspan><tspan x="200" dy="4.2">encoder.down_blocks.2.out_layers.2</tspan></text></g>
<g id="silu_10_53"><rect class="w" x="176" y="1789" width="48" height="13"/><text class="t" x="200" y="1792.7"><tspan class="b">silu_10_53</tspan><tspan x="200" dy="4">(1, 64, 8, 8) 16 KB</tspan><tspan x="200" dy="4">encoder.down_blocks.2.out_layers.1</tspan></text></g>
<g id="groupnorm_6_52"><rect class="g" x="176" y="1810" width="48" height="22"/><text class="t" x="200" y="1814.1"><tspan class="b">groupnorm_6_52</tspan><tspan x="200" dy="4.2">(1, 64, 8, 8) 16 KB</tspan><tspan x="200" dy="4.2">num_groups=32, eps=1e-05</tspan><tspan x="200" dy="4.2">parameter: weight (64,) · bias (64,)</tspan><tspan x="200" dy="4.2">encoder.down_blocks.2.out_layers.0</tspan></text></g>
<g id="add_5_51"><ellipse class="e" cx="200" cy="1846" rx="21" ry="7"/><text class="t" x="200" y="1845.1"><tspan class="b">add_5_51</tspan><tspan x="200" dy="4.2">(1, 64, 8, 8) 16 KB</tspan></text></g>
<g id="conv2d_9_47"><rect class="g" x="157" y="1866" width="86" height="22"/><text class="t" x="200" y="1870.1"><tspan class="b">conv2d_9_47</tspan><tspan x="200" dy="4.2">(1, 64, 8, 8) 16 KB</tspan><tspan x="200" dy="4.2">in_channels=64, out_channels=64, kernel_size=(3, 3), padding=(1, 1)</tspan><tspan x="200" dy="4.2">parameter: weight (64, 64, 3, 3) · bias (64,)</tspan><tspan x="200" dy="4.2">encoder.down_blocks.2.in_layers.2</tspan></text></g>
<g id="silu_8_46"><rect class="w" x="167" y="1906" width="46" height="13"/><text class="t" x="190" y="1909.7"><tspan class="b">silu_8_46</tspan><tspan x="190" dy="4">(1, 64, 8, 8) 16 KB</tspan><tspan x="190" dy="4">encoder.down_blocks.2.in_layers.1</tspan></text></g>
<g id="getitem_5_50"><ellipse class="e" cx="280" cy="1877" rx="19" ry="6"/><text class="t" x="280" y="1876.1"><tspan class="b">getitem_5_50</tspan><tspan x="280" dy="4.2">(1, 64, 1, 1) 256 B</tspan></text></g>
<g id="linear_5_49"><rect class="g" x="255" y="1902" width="50" height="22"/><text class="t" x="280" y="1906.1"><tspan class="b">linear_5_49</tspan><tspan x="280" dy="4.2">(1, 64) 256 B</tspan><tspan x="280" dy="4.2">in_features=128, out_features=64</tspan><tspan x="280" dy="4.2">parameter: weight (64, 128) · bias (64,)</tspan><tspan x="280" dy="4.2">encoder.down_blocks.2.emb_layers.1</tspan></text></g>
<g id="silu_9_48"><rect class="w" x="255" y="1935" width="50" height="14"/><text class="t" x="280" y="1938.9"><tspan class="b">silu_9_48</tspan><tspan x="280" dy="4.2">(1, 128) 512 B</tspan><tspan x="280" dy="4.2">encoder.down_blocks.2.emb_layers.0</tspan></text></g>
<g id="groupnorm_5_44"><rect class="g" x="57" y="1931" width="50" height="22"/><text class="t" x="82" y="1935.1"><tspan class="b">groupnorm_5_44</tspan><tspan x="82" dy="4.2">(1, 64, 8, 8) 16 KB</tspan><tspan x="82" dy="4.2">num_groups=32, eps=1e-05</tspan><tspan x="82" dy="4.2">parameter: weight (64,) · bias (64,)</tspan><tspan x="82" dy="4.2">encoder.down_blocks.2.in_layers.0</tspan></text></g>
<g id="identity_2_45"><rect class="w" x="107" y="1935" width="40" height="14"/><text class="t" x="127" y="1938.9"><tspan class="b">identity_2_45</tspan><tspan x="127" dy="4.2">(1, 64, 8, 8) 16 KB</tspan><tspan x="127" dy="4.2">encoder.down_blocks.2.skip</tspan></text></g>
<g id="conv2d_8_43"><rect class="g" x="76" y="1961" width="101" height="22"/><text class="t" x="126.5" y="1965.1"><tspan class="b">conv2d_8_43</tspan><tspan x="126.5" dy="4.2">(1, 64, 8, 8) 16 KB</tspan><tspan x="126.5" dy="4.2">in_channels=64, out_channels=64, kernel_size=(3, 3), stride=(2, 2), padding=(1, 1)</tspan><tspan x="126.5" dy="4.2">parameter: weight (64, 64, 3, 3) · bias (64,)</tspan><tspan x="126.5" dy="4.2">encoder.downsamples.1</tspan></text></g>
<g id="add_4_42"><ellipse class="e" cx="126" cy="2003" rx="22" ry="7"/><text class="t" x="126" y="2002.1"><tspan class="b">add_4_42</tspan><tspan x="126" dy="4.2">(1, 64, 16, 16) 64 KB</tspan></text></g>
<g id="conv2d_6_40"><rect class="g" x="83" y="2023" width="86" height="22"/><text class="t" x="126" y="2027.1"><tspan class="b">conv2d_6_40</tspan><tspan x="126" dy="4.2">(1, 64, 16, 16) 64 KB</tspan><tspan x="126" dy="4.2">in_channels=64, out_channels=64, kernel_size=(3, 3), padding=(1, 1)</tspan><tspan x="126" dy="4.2">parameter: weight (64, 64, 3, 3) · bias (64,)</tspan><tspan x="126" dy="4.2">encoder.down_blocks.1.out_layers.2</tspan></text></g>
<g id="silu_7_39"><rect class="w" x="103" y="2052" width="46" height="14"/><text class="t" x="126" y="2055.9"><tspan class="b">silu_7_39</tspan><tspan x="126" dy="4.2">(1, 64, 16, 16) 64 KB</tspan><tspan x="126" dy="4.2">encoder.down_blocks.1.out_layers.1</tspan></text></g>
<g id="groupnorm_4_38"><rect class="g" x="103" y="2073" width="46" height="22"/><text class="t" x="126" y="2077.1"><tspan class="b">groupnorm_4_38</tspan><tspan x="126" dy="4.2">(1, 64, 16, 16) 64 KB</tspan><tspan x="126" dy="4.2">num_groups=32, eps=1e-05</tspan><tspan x="126" dy="4.2">parameter: weight (64,) · bias (64,)</tspan><tspan x="126" dy="4.2">encoder.down_blocks.1.out_layers.0</tspan></text></g>
<g id="conv2d_7_41"><rect class="g" x="177" y="2023" width="66" height="22"/><text class="t" x="210" y="2027.1"><tspan class="b">conv2d_7_41</tspan><tspan x="210" dy="4.2">(1, 64, 16, 16) 64 KB</tspan><tspan x="210" dy="4.2">in_channels=32, out_channels=64, kernel_size=(1, 1)</tspan><tspan x="210" dy="4.2">parameter: weight (64, 32, 1, 1) · bias (64,)</tspan><tspan x="210" dy="4.2">encoder.down_blocks.1.skip</tspan></text></g>
<g id="add_3_37"><ellipse class="e" cx="126" cy="2110" rx="23" ry="7"/><text class="t" x="126" y="2109.1"><tspan class="b">add_3_37</tspan><tspan x="126" dy="4.2">(1, 64, 16, 16) 64 KB</tspan></text></g>
<g id="getitem_4_36"><ellipse class="e" cx="117" cy="2141" rx="19" ry="7"/><text class="t" x="117" y="2140.1"><tspan class="b">getitem_4_36</tspan><tspan x="117" dy="4.2">(1, 64, 1, 1) 256 B</tspan></text></g>
<g id="linear_4_35"><rect class="g" x="88" y="2165" width="49" height="22"/><text class="t" x="112.5" y="2169.1"><tspan class="b">linear_4_35</tspan><tspan x="112.5" dy="4.2">(1, 64) 256 B</tspan><tspan x="112.5" dy="4.2">in_features=128, out_features=64</tspan><tspan x="112.5" dy="4.2">parameter: weight (64, 128) · bias (64,)</tspan><tspan x="112.5" dy="4.2">encoder.down_blocks.1.emb_layers.1</tspan></text></g>
<g id="silu_6_34"><rect class="w" x="88" y="2199" width="50" height="14"/><text class="t" x="113" y="2202.9"><tspan class="b">silu_6_34</tspan><tspan x="113" dy="4.2">(1, 128) 512 B</tspan><tspan x="113" dy="4.2">encoder.down_blocks.1.emb_layers.0</tspan></text></g>
<g id="conv2d_5_33"><rect class="g" x="149" y="2130" width="86" height="22"/><text class="t" x="192" y="2134.1"><tspan class="b">conv2d_5_33</tspan><tspan x="192" dy="4.2">(1, 64, 16, 16) 64 KB</tspan><tspan x="192" dy="4.2">in_channels=32, out_channels=64, kernel_size=(3, 3), padding=(1, 1)</tspan><tspan x="192" dy="4.2">parameter: weight (64, 32, 3, 3) · bias (64,)</tspan><tspan x="192" dy="4.2">encoder.down_blocks.1.in_layers.2</tspan></text></g>
<g id="silu_5_32"><rect class="w" x="173" y="2169" width="46" height="14"/><text class="t" x="196" y="2172.9"><tspan class="b">silu_5_32</tspan><tspan x="196" dy="4.2">(1, 32, 16, 16) 32 KB</tspan><tspan x="196" dy="4.2">encoder.down_blocks.1.in_layers.1</tspan></text></g>
<g id="groupnorm_3_31"><rect class="g" x="175" y="2195" width="46" height="22"/><text class="t" x="198" y="2199.1"><tspan class="b">groupnorm_3_31</tspan><tspan x="198" dy="4.2">(1, 32, 16, 16) 32 KB</tspan><tspan x="198" dy="4.2">num_groups=32, eps=1e-05</tspan><tspan x="198" dy="4.2">parameter: weight (32,) · bias (32,)</tspan><tspan x="198" dy="4.2">encoder.down_blocks.1.in_layers.0</tspan></text></g>
<g id="conv2d_4_30"><rect class="g" x="149" y="2227" width="102" height="22"/><text class="t" x="200" y="2231.1"><tspan class="b">conv2d_4_30</tspan><tspan x="200" dy="4.2">(1, 32, 16, 16) 32 KB</tspan><tspan x="200" dy="4.2">in_channels=32, out_channels=32, kernel_size=(3, 3), stride=(2, 2), padding=(1, 1)</tspan><tspan x="200" dy="4.2">parameter: weight (32, 32, 3, 3) · bias (32,)</tspan><tspan x="200" dy="4.2">encoder.downsamples.0</tspan></text></g>
<g id="add_2_29"><ellipse class="e" cx="225" cy="2269" rx="24" ry="7"/><text class="t" x="225" y="2268.1"><tspan class="b">add_2_29</tspan><tspan x="225" dy="4.2">(1, 32, 32, 32) 128 KB</tspan></text></g>
<g id="conv2d_3_28"><rect class="g" x="194" y="2289" width="86" height="23"/><text class="t" x="237" y="2293.3"><tspan class="b">conv2d_3_28</tspan><tspan x="237" dy="4.2">(1, 32, 32, 32) 128 KB</tspan><tspan x="237" dy="4.2">in_channels=32, out_channels=32, kernel_size=(3, 3), padding=(1, 1)</tspan><tspan x="237" dy="4.2">parameter: weight (32, 32, 3, 3) · bias (32,)</tspan><tspan x="237" dy="4.2">encoder.down_blocks.0.out_layers.2</tspan></text></g>
<g id="silu_4_27"><rect class="w" x="212" y="2318" width="49" height="14"/><text class="t" x="236.5" y="2321.9"><tspan class="b">silu_4_27</tspan><tspan x="236.5" dy="4.2">(1, 32, 32, 32) 128 KB</tspan><tspan x="236.5" dy="4.2">encoder.down_blocks.0.out_layers.1</tspan></text></g>
<g id="groupnorm_2_26"><rect class="g" x="212" y="2340" width="49" height="22"/><text class="t" x="236.5" y="2344.1"><tspan class="b">groupnorm_2_26</tspan><tspan x="236.5" dy="4.2">(1, 32, 32, 32) 128 KB</tspan><tspan x="236.5" dy="4.2">num_groups=32, eps=1e-05</tspan><tspan x="236.5" dy="4.2">parameter: weight (32,) · bias (32,)</tspan><tspan x="236.5" dy="4.2">encoder.down_blocks.0.out_layers.0</tspan></text></g>
<g id="add_1_25"><ellipse class="e" cx="236" cy="2377" rx="24" ry="7"/><text class="t" x="236" y="2376.1"><tspan class="b">add_1_25</tspan><tspan x="236" dy="4.2">(1, 32, 32, 32) 128 KB</tspan></text></g>
<g id="conv2d_2_21"><rect class="g" x="194" y="2396" width="86" height="22"/><text class="t" x="237" y="2400.1"><tspan class="b">conv2d_2_21</tspan><tspan x="237" dy="4.2">(1, 32, 32, 32) 128 KB</tspan><tspan x="237" dy="4.2">in_channels=32, out_channels=32, kernel_size=(3, 3), padding=(1, 1)</tspan><tspan x="237" dy="4.2">parameter: weight (32, 32, 3, 3) · bias (32,)</tspan><tspan x="237" dy="4.2">encoder.down_blocks.0.in_layers.2</tspan></text></g>
<g id="silu_2_19"><rect class="w" x="203" y="2436" width="47" height="14"/><text class="t" x="226.5" y="2439.9"><tspan class="b">silu_2_19</tspan><tspan x="226.5" dy="4.2">(1, 32, 32, 32) 128 KB</tspan><tspan x="226.5" dy="4.2">encoder.down_blocks.0.in_layers.1</tspan></text></g>
<g id="getitem_3_24"><ellipse class="e" cx="312" cy="2407" rx="19" ry="7"/><text class="t" x="312" y="2406.1"><tspan class="b">getitem_3_24</tspan><tspan x="312" dy="4.2">(1, 32, 1, 1) 128 B</tspan></text></g>
<g id="linear_3_23"><rect class="g" x="292" y="2431" width="49" height="22"/><text class="t" x="316.5" y="2435.1"><tspan class="b">linear_3_23</tspan><tspan x="316.5" dy="4.2">(1, 32) 128 B</tspan><tspan x="316.5" dy="4.2">in_features=128, out_features=32</tspan><tspan x="316.5" dy="4.2">parameter: weight (32, 128) · bias (32,)</tspan><tspan x="316.5" dy="4.2">encoder.down_blocks.0.emb_layers.1</tspan></text></g>
<g id="silu_3_22"><rect class="w" x="292" y="2465" width="49" height="14"/><text class="t" x="316.5" y="2468.9"><tspan class="b">silu_3_22</tspan><tspan x="316.5" dy="4.2">(1, 128) 512 B</tspan><tspan x="316.5" dy="4.2">encoder.down_blocks.0.emb_layers.0</tspan></text></g>
<g id="groupnorm_1_18"><rect class="g" x="53" y="2461" width="51" height="22"/><text class="t" x="78.5" y="2465.1"><tspan class="b">groupnorm_1_18</tspan><tspan x="78.5" dy="4.2">(1, 32, 32, 32) 128 KB</tspan><tspan x="78.5" dy="4.2">num_groups=32, eps=1e-05</tspan><tspan x="78.5" dy="4.2">parameter: weight (32,) · bias (32,)</tspan><tspan x="78.5" dy="4.2">encoder.down_blocks.0.in_layers.0</tspan></text></g>
<g id="identity_1_20"><rect class="w" x="103" y="2465" width="41" height="14"/><text class="t" x="123.5" y="2468.9"><tspan class="b">identity_1_20</tspan><tspan x="123.5" dy="4.2">(1, 32, 32, 32) 128 KB</tspan><tspan x="123.5" dy="4.2">encoder.down_blocks.0.skip</tspan></text></g>
<g id="conv2d_1_17"><rect class="g" x="66" y="2500" width="85" height="22"/><text class="t" x="108.5" y="2504.1"><tspan class="b">conv2d_1_17</tspan><tspan x="108.5" dy="4.2">(1, 32, 32, 32) 128 KB</tspan><tspan x="108.5" dy="4.2">in_channels=3, out_channels=32, kernel_size=(3, 3), padding=(1, 1)</tspan><tspan x="108.5" dy="4.2">parameter: weight (32, 3, 3, 3) · bias (32,)</tspan><tspan x="108.5" dy="4.2">encoder.in_conv</tspan></text></g>
<g id="input_1"><ellipse cx="23" cy="2540" rx="22" ry="10" fill="#90ee90" stroke="#a6a6a6" stroke-width="0.6"/><text class="t" x="23" y="2537"><tspan class="b">input_1</tspan><tspan x="23" dy="4.2">(1, 3, 32, 32) 12 KB</tspan><tspan x="23" dy="4.2">@inputs</tspan></text></g>
<g id="linear_2_16"><rect class="g" x="298" y="2500" width="51" height="22"/><text class="t" x="323.5" y="2504.1"><tspan class="b">linear_2_16</tspan><tspan x="323.5" dy="4.2">(1, 128) 512 B</tspan><tspan x="323.5" dy="4.2">in_features=128, out_features=128</tspan><tspan x="323.5" dy="4.2">parameter: weight (128, 128) · bias (128,)</tspan><tspan x="323.5" dy="4.2">time_embed.2</tspan></text></g>
<g id="silu_1_15"><rect class="w" x="307" y="2533" width="33" height="14"/><text class="t" x="323.5" y="2536.9"><tspan class="b">silu_1_15</tspan><tspan x="323.5" dy="4.2">(1, 128) 512 B</tspan><tspan x="323.5" dy="4.2">time_embed.1</tspan></text></g>
<g id="linear_1_14"><rect class="g" x="299" y="2557" width="49" height="22"/><text class="t" x="323.5" y="2561.1"><tspan class="b">linear_1_14</tspan><tspan x="323.5" dy="4.2">(1, 128) 512 B</tspan><tspan x="323.5" dy="4.2">in_features=32, out_features=128</tspan><tspan x="323.5" dy="4.2">parameter: weight (128, 32) · bias (128,)</tspan><tspan x="323.5" dy="4.2">time_embed.0</tspan></text></g>
<g id="cat_1_13"><ellipse class="e" cx="324" cy="2597" rx="15" ry="10"/><text class="t" x="324" y="2594"><tspan class="b">cat_1_13</tspan><tspan x="324" dy="4.2">(1, 32) 128 B</tspan><tspan x="324" dy="4.2">dim=-1</tspan></text></g>
<g id="cos_1_11"><ellipse class="e" cx="318" cy="2620" rx="14" ry="6"/><text class="t" x="318" y="2619.1"><tspan class="b">cos_1_11</tspan><tspan x="318" dy="4.2">(1, 16) 64 B</tspan></text></g>
<g id="sin_1_12"><ellipse class="e" cx="349" cy="2620" rx="14" ry="6"/><text class="t" x="349" y="2619.1"><tspan class="b">sin_1_12</tspan><tspan x="349" dy="4.2">(1, 16) 64 B</tspan></text></g>
<g id="mul_2_10"><ellipse class="e" cx="337" cy="2643" rx="14" ry="6"/><text class="t" x="337" y="2642.1"><tspan class="b">mul_2_10</tspan><tspan x="337" dy="4.2">(1, 16) 64 B</tspan></text></g>
<g id="getitem_2_9"><ellipse class="e" cx="328" cy="2663" rx="14" ry="6"/><text class="t" x="328" y="2662.1"><tspan class="b">getitem_2_9</tspan><tspan x="328" dy="4.2">(1, 16) 64 B</tspan></text></g>
<g id="float_1_8"><ellipse class="e" cx="358" cy="2663" rx="12" ry="6"/><text class="t" x="358" y="2662.1"><tspan class="b">float_1_8</tspan><tspan x="358" dy="4.2">(1, 1) 4 B</tspan></text></g>
<g id="to_1_6"><ellipse class="e" cx="328" cy="2683" rx="13" ry="6"/><text class="t" x="328" y="2682.1"><tspan class="b">to_1_6</tspan><tspan x="328" dy="4.2">(16,) 64 B</tspan></text></g>
<g id="getitem_1_7"><ellipse class="e" cx="358" cy="2683" rx="14" ry="6"/><text class="t" x="358" y="2682.1"><tspan class="b">getitem_1_7</tspan><tspan x="358" dy="4.2">(1, 1) 4 B</tspan></text></g>
<g id="exp_1_5"><ellipse class="e" cx="328" cy="2705" rx="13" ry="6"/><text class="t" x="328" y="2704.1"><tspan class="b">exp_1_5</tspan><tspan x="328" dy="4.2">(16,) 64 B</tspan></text></g>
<g id="tensor_1_1"><ellipse class="e" cx="389" cy="2706" rx="10" ry="6"/><text class="t" x="389" y="2705.1"><tspan class="b">tensor_1_1</tspan><tspan x="389" dy="4.2">(1,) 4 B</tspan></text></g>
<g id="truediv_1_4"><ellipse class="e" cx="328" cy="2725" rx="14" ry="6"/><text class="t" x="328" y="2724.1"><tspan class="b">truediv_1_4</tspan><tspan x="328" dy="4.2">(16,) 64 B</tspan></text></g>
<g id="mul_1_3"><ellipse class="e" cx="328" cy="2747" rx="13" ry="6"/><text class="t" x="328" y="2746.1"><tspan class="b">mul_1_3</tspan><tspan x="328" dy="4.2">(16,) 64 B</tspan></text></g>
<g id="arange_1_2"><ellipse class="e" cx="328" cy="2768" rx="14" ry="6"/><text class="t" x="328" y="2767.1"><tspan class="b">arange_1_2</tspan><tspan x="328" dy="4.2">(16,) 64 B</tspan></text></g>
</g>
</svg>
